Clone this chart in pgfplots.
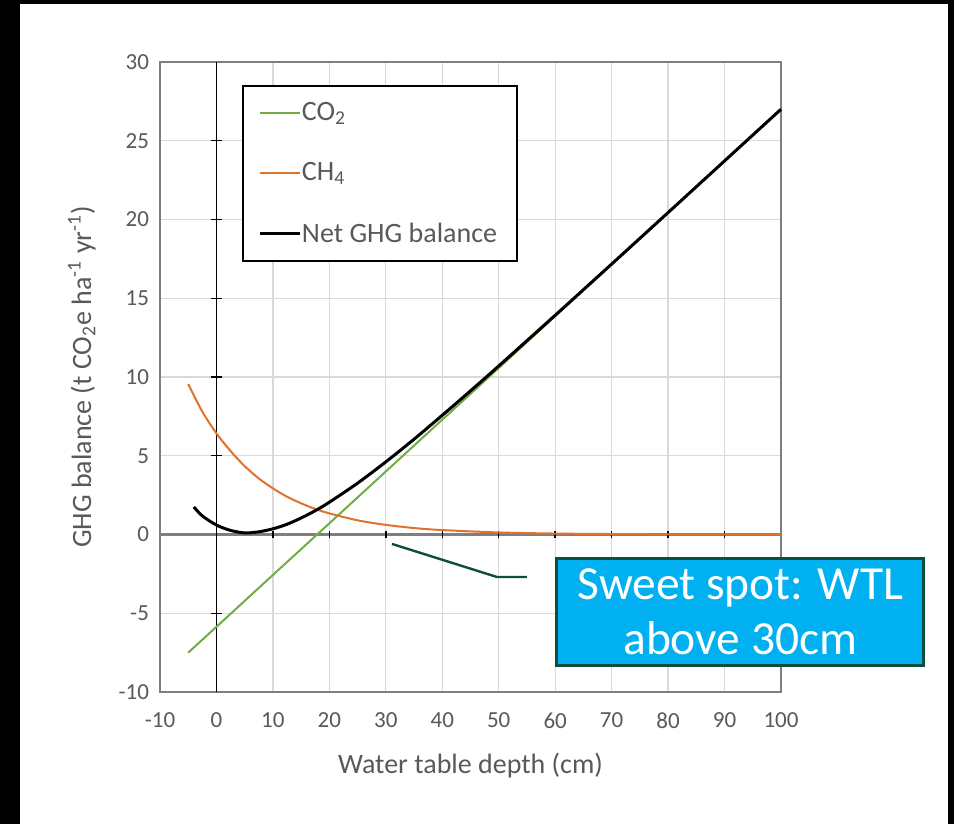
\documentclass[border=0pt]{standalone}
\usepackage{fontspec}
\setmainfont{Carlito}
\usepackage{pgfplots}
\pgfplotsset{compat=1.18}

\definecolor{co2}{HTML}{70AD47}
\definecolor{ch4}{HTML}{E0722F}
\definecolor{txt}{HTML}{595959}
\definecolor{gridc}{HTML}{D9D9D9}
\definecolor{framec}{HTML}{7F7F7F}
\definecolor{sweet}{HTML}{00B0F0}
\definecolor{callout}{HTML}{0F4D3C}

\begin{document}
\begin{tikzpicture}
% black slide border with the white panel (units: image pixels)
\begin{scope}[x=0.5pt,y=0.5pt]
  \fill[black] (-160,-132) rectangle (794,692);
  \fill[white] (-140,-132) rectangle (788,688);
\end{scope}
\begin{axis}[
  at={(0,0)}, anchor=south west,
  scale only axis, width=310.5pt, height=315pt,
  xmin=-10, xmax=100, ymin=-10, ymax=30,
  xtick={-10,0,...,100}, ytick={-10,-5,...,30},
  grid=major,
  major grid style={gridc, line width=0.6pt},
  axis line style={framec, line width=1pt},
  tick style={draw=none},
  /pgf/number format/assume math mode=true,
  ticklabel style={font=\fontsize{11.5}{13}\selectfont, text=txt},
  xticklabel style={yshift=-7pt},
  yticklabel style={xshift=-2pt},
  xlabel={Water table depth (cm)},
  ylabel={GHG balance (t CO\textsubscript{2}e ha\textsuperscript{-1} yr\textsuperscript{-1})},
  label style={font=\fontsize{14}{16}\selectfont, text=txt},
  xlabel style={at={(axis description cs:0.5,-0.116)}, anchor=center},
  ylabel style={at={(axis description cs:-0.126,0.5)}, anchor=center},
  legend style={at={(axis description cs:0.132,0.963)}, anchor=north west,
    draw=black, line width=1pt, fill=white,
    font=\fontsize{14}{16}\selectfont, text=txt,
    inner xsep=8pt, inner ysep=6pt, row sep=15.5pt, column sep=-2pt},
  legend cell align=left,
  legend image code/.code={\draw[#1] (0pt,0pt) -- (20pt,0pt);},
  clip=false,
]
% axes crossing at zero, Excel style
\draw[framec, line width=1.4pt] (axis cs:-10,0) -- (axis cs:100,0);
\draw[black, line width=0.7pt] (axis cs:0,-10) -- (axis cs:0,30);
\pgfplotsinvokeforeach{10,20,...,90}{
  \draw[black, line width=0.7pt] (axis cs:#1,-0.25) -- (axis cs:#1,0.25);}
\pgfplotsinvokeforeach{-5,5,10,15,20,25}{
  \draw[black, line width=0.7pt] (axis cs:-1.05,#1) -- (axis cs:1.05,#1);}

\addplot[co2, line width=1pt] coordinates {
  (-5,-7.50) (0,-5.86) (10,-2.57) (20,0.71) (30,4.00) (40,7.29)
  (50,10.57) (60,13.86) (70,17.14) (80,20.43) (90,23.71) (100,27.00)};
\addlegendentry{CO\textsubscript{2}}

\addplot[ch4, line width=1pt, smooth] coordinates {
  (-5,9.55) (-2.5,7.80) (0,6.42) (2.5,5.30) (5,4.34) (7.5,3.56) (10,2.93)
  (12.5,2.40) (15,1.98) (17.5,1.62) (20,1.34) (25,0.90) (30,0.61) (35,0.41)
  (40,0.28) (50,0.13) (60,0.06) (70,0.03) (80,0.01) (90,0.01) (100,0.00)};
\addlegendentry{CH\textsubscript{4}}

\addplot[black, line width=1.5pt, smooth] coordinates {
  (-4,1.75) (-2.5,1.18) (0,0.60) (2.5,0.26) (5,0.10) (7.5,0.17) (10,0.36)
  (12.5,0.65) (15,1.05) (17.5,1.51) (20,2.05) (25,3.26) (30,4.61) (35,6.05)
  (40,7.57) (45,9.12) (50,10.70) (60,13.92) (70,17.17) (80,20.44) (90,23.72) (100,27.00)};
\addlegendentry{Net GHG balance}

% callout
\draw[callout, line width=1.2pt] (axis cs:31.1,-0.6) -- (axis cs:49.7,-2.7) -- (axis cs:55,-2.7);
\node[draw=callout, line width=1.5pt, fill=sweet, text=white, inner sep=0pt,
  minimum width=183.5pt, minimum height=53.5pt, align=center,
  font=\fontsize{23.75}{27.5}\selectfont] at (axis cs:92.8,-4.89)
  {Sweet spot: WTL\\above 30cm};
\end{axis}
\end{tikzpicture}
\end{document}
